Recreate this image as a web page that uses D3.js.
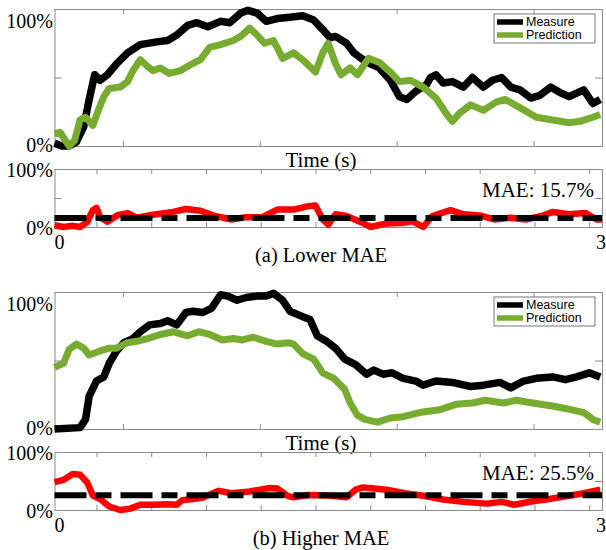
<!DOCTYPE html>
<html>
<head>
<meta charset="utf-8">
<script src="https://cdn.jsdelivr.net/npm/d3@7"></script>
<style>
  body { margin: 0; background: #fff; }
  svg text { font-family: "Liberation Serif", "Times New Roman", serif; fill: #000; }
  .legend text { font-family: "Liberation Sans", Arial, sans-serif; font-size: 12.5px; }
  .frame path, .frame line { stroke: #8a8a8a; stroke-width: 1; }
</style>
</head>
<body>
<svg id="chart" width="606" height="550"></svg>
<script>
// ── data (time in s, value as fraction of 100%) ─────────────────────────────
const measureA = [[0.00,0.02],[0.04,0.00],[0.08,0.00],[0.12,0.03],[0.16,0.14],[0.19,0.34],[0.22,0.52],[0.25,0.48],[0.29,0.52],[0.34,0.60],[0.40,0.68],[0.47,0.74],[0.56,0.76],[0.62,0.77],[0.67,0.81],[0.73,0.88],[0.78,0.90],[0.84,0.87],[0.91,0.91],[0.96,0.90],[1.02,0.97],[1.06,0.99],[1.11,0.97],[1.16,0.91],[1.22,0.93],[1.29,0.94],[1.36,0.95],[1.42,0.92],[1.47,0.85],[1.51,0.79],[1.54,0.80],[1.60,0.75],[1.64,0.68],[1.68,0.64],[1.73,0.60],[1.78,0.57],[1.84,0.48],[1.89,0.36],[1.93,0.34],[1.98,0.40],[2.04,0.45],[2.06,0.50],[2.09,0.52],[2.13,0.46],[2.18,0.47],[2.24,0.43],[2.29,0.50],[2.35,0.43],[2.40,0.48],[2.45,0.50],[2.50,0.43],[2.55,0.41],[2.61,0.35],[2.66,0.37],[2.72,0.43],[2.77,0.39],[2.82,0.36],[2.90,0.41],[2.95,0.31],[2.99,0.34]];
const predictionA = [[0.00,0.09],[0.03,0.10],[0.06,0.04],[0.08,0.00],[0.11,0.04],[0.14,0.19],[0.17,0.21],[0.21,0.15],[0.24,0.26],[0.27,0.36],[0.30,0.42],[0.36,0.43],[0.40,0.47],[0.43,0.55],[0.47,0.63],[0.51,0.58],[0.54,0.55],[0.58,0.57],[0.63,0.53],[0.69,0.55],[0.74,0.59],[0.80,0.63],[0.85,0.72],[0.91,0.74],[0.98,0.77],[1.02,0.80],[1.07,0.86],[1.11,0.81],[1.15,0.75],[1.20,0.77],[1.25,0.64],[1.31,0.68],[1.36,0.63],[1.43,0.54],[1.47,0.68],[1.50,0.75],[1.54,0.60],[1.57,0.52],[1.62,0.57],[1.66,0.52],[1.72,0.64],[1.78,0.61],[1.84,0.54],[1.89,0.47],[1.95,0.48],[2.02,0.43],[2.09,0.35],[2.15,0.23],[2.18,0.18],[2.22,0.24],[2.28,0.30],[2.35,0.26],[2.42,0.32],[2.47,0.34],[2.55,0.28],[2.64,0.21],[2.73,0.19],[2.82,0.17],[2.88,0.18],[2.95,0.21],[2.99,0.23]];
const errorA = [[0.00,0.03],[0.05,0.00],[0.10,0.02],[0.14,0.00],[0.18,0.09],[0.21,0.29],[0.23,0.33],[0.25,0.17],[0.29,0.09],[0.35,0.21],[0.40,0.24],[0.45,0.16],[0.54,0.21],[0.65,0.26],[0.72,0.31],[0.80,0.28],[0.88,0.19],[0.97,0.13],[1.05,0.17],[1.14,0.17],[1.22,0.30],[1.31,0.30],[1.39,0.36],[1.43,0.37],[1.47,0.13],[1.50,0.04],[1.54,0.22],[1.60,0.19],[1.69,0.07],[1.73,0.00],[1.82,0.06],[1.90,0.07],[1.96,0.10],[2.02,0.00],[2.07,0.19],[2.17,0.29],[2.24,0.22],[2.33,0.20],[2.41,0.13],[2.50,0.16],[2.58,0.13],[2.67,0.19],[2.73,0.26],[2.82,0.22],[2.91,0.24],[2.97,0.13],[3.00,0.13]];
const maeA = 0.157;

const measureB = [[0.00,0.00],[0.14,0.01],[0.17,0.07],[0.19,0.24],[0.23,0.35],[0.27,0.38],[0.30,0.48],[0.34,0.57],[0.38,0.63],[0.43,0.66],[0.47,0.71],[0.52,0.76],[0.58,0.77],[0.62,0.79],[0.67,0.76],[0.72,0.85],[0.76,0.86],[0.81,0.85],[0.86,0.88],[0.91,0.98],[0.95,0.97],[1.00,0.94],[1.05,0.96],[1.11,0.97],[1.16,0.97],[1.20,0.99],[1.25,0.94],[1.29,0.86],[1.36,0.82],[1.40,0.80],[1.44,0.68],[1.49,0.64],[1.54,0.59],[1.59,0.51],[1.65,0.47],[1.71,0.40],[1.75,0.43],[1.80,0.40],[1.85,0.41],[1.91,0.37],[1.98,0.35],[2.02,0.32],[2.09,0.35],[2.18,0.34],[2.28,0.31],[2.35,0.32],[2.44,0.34],[2.50,0.30],[2.57,0.35],[2.64,0.37],[2.73,0.38],[2.80,0.36],[2.86,0.38],[2.93,0.41],[2.99,0.38]];
const predictionB = [[0.00,0.45],[0.05,0.48],[0.08,0.58],[0.12,0.62],[0.16,0.59],[0.19,0.54],[0.25,0.57],[0.30,0.59],[0.34,0.59],[0.40,0.63],[0.45,0.64],[0.51,0.66],[0.58,0.69],[0.65,0.71],[0.70,0.69],[0.73,0.68],[0.79,0.71],[0.85,0.69],[0.92,0.65],[0.98,0.66],[1.03,0.65],[1.09,0.67],[1.16,0.64],[1.22,0.62],[1.28,0.63],[1.31,0.62],[1.36,0.55],[1.42,0.51],[1.47,0.41],[1.53,0.37],[1.59,0.29],[1.62,0.19],[1.66,0.10],[1.70,0.07],[1.77,0.05],[1.84,0.08],[1.91,0.09],[2.00,0.12],[2.11,0.14],[2.20,0.18],[2.29,0.19],[2.36,0.21],[2.46,0.19],[2.53,0.21],[2.62,0.19],[2.72,0.17],[2.80,0.15],[2.90,0.12],[2.95,0.07],[2.99,0.05]];
const errorB = [[0.00,0.48],[0.05,0.52],[0.10,0.62],[0.14,0.61],[0.18,0.47],[0.21,0.25],[0.25,0.19],[0.30,0.06],[0.36,0.00],[0.41,0.02],[0.47,0.09],[0.54,0.09],[0.62,0.10],[0.67,0.09],[0.70,0.17],[0.76,0.19],[0.81,0.21],[0.90,0.33],[0.97,0.29],[1.07,0.32],[1.18,0.38],[1.22,0.37],[1.28,0.24],[1.31,0.22],[1.39,0.26],[1.50,0.25],[1.60,0.22],[1.65,0.35],[1.69,0.39],[1.75,0.37],[1.82,0.35],[1.92,0.29],[2.03,0.24],[2.13,0.18],[2.24,0.14],[2.37,0.11],[2.45,0.14],[2.52,0.09],[2.62,0.15],[2.71,0.19],[2.81,0.24],[2.90,0.29],[2.99,0.35]];
const maeB = 0.255;

const topTicks    = [0.375, 1.125, 1.875, 2.625];
const bottomTicks = [0.23, 0.53, 0.83, 1.13, 1.43, 1.73, 2.03, 2.33, 2.63, 2.93];
const yTicks      = [0, 0.5, 1];
const legendNames = ['Measure', 'Prediction'];
const captions    = ['(a) Lower MAE', '(b) Higher MAE'];

const colors = { measure: '#000000', prediction: '#77ac30', error: '#ff0000' };

// ── layout ──────────────────────────────────────────────────────────────────
const svg = d3.select('#chart');
const left = 54.5, right = 602;

const x = d3.scaleLinear().domain([0, 3]).range([left, right]);

// box with inward ticks on all four sides
function drawFrame(g, y, xt) {
  const h = y.range()[0];
  const t = y.range()[1];
  g.append('g').attr('class', 'frame').attr('transform', `translate(0,${h})`)
    .call(d3.axisBottom(x).tickValues(xt).tickSize(-5).tickSizeOuter(0).tickFormat(''));
  g.append('g').attr('class', 'frame').attr('transform', `translate(0,${t})`)
    .call(d3.axisTop(x).tickValues(xt).tickSize(-5).tickSizeOuter(0).tickFormat(''));
  g.append('g').attr('class', 'frame').attr('transform', `translate(${left},0)`)
    .call(d3.axisLeft(y).tickValues(yTicks).tickSize(-7).tickSizeOuter(0).tickFormat(''));
  g.append('g').attr('class', 'frame').attr('transform', `translate(${right},0)`)
    .call(d3.axisRight(y).tickValues(yTicks).tickSize(-7).tickSizeOuter(0).tickFormat(''));
}

function drawLine(g, y, data, color, width, dash) {
  const line = d3.line().x(d => x(d[0])).y(d => y(d[1]));
  const p = g.append('path')
    .datum(data)
    .attr('d', line)
    .attr('fill', 'none')
    .attr('stroke', color)
    .attr('stroke-width', width)
    .attr('stroke-linejoin', 'round')
    .attr('stroke-linecap', 'butt');
  if (dash) p.attr('stroke-dasharray', dash);
}

function label(g, px, py, txt, size, anchor) {
  g.append('text')
    .attr('x', px).attr('y', py)
    .attr('text-anchor', anchor || 'middle')
    .style('font-size', size + 'px')
    .text(txt);
}

function drawFigure(off, measure, prediction, error, mae, caption) {
  const g = svg.append('g');
  const yTop = d3.scaleLinear().domain([0, 1]).range([146 + off, 9 + off]);
  const yBot = d3.scaleLinear().domain([0, 1]).range([227 + off, 169 + off]);

  // ── upper panel: measure vs prediction
  drawFrame(g, yTop, topTicks);
  drawLine(g, yTop, measure, colors.measure, 7.5);
  drawLine(g, yTop, prediction, colors.prediction, 7);

  label(g, 53, yTop(1) + 19, '100%', 20, 'end');
  label(g, 53, yTop(0) + 6, '0%', 20, 'end');
  label(g, 321, yTop(0) + 21, 'Time (s)', 21);

  // legend
  const lg = g.append('g').attr('class', 'legend');
  const lx = 494, ly = yTop(1) + 5;
  lg.append('rect')
    .attr('x', lx).attr('y', ly).attr('width', 101).attr('height', 29)
    .attr('fill', '#fff').attr('stroke', '#555').attr('stroke-width', 0.8);
  [colors.measure, colors.prediction].forEach((c, i) => {
    const yy = ly + 8 + i * 13;
    lg.append('line')
      .attr('x1', lx + 3).attr('x2', lx + 29)
      .attr('y1', yy).attr('y2', yy)
      .attr('stroke', c).attr('stroke-width', 5.5);
    lg.append('text').attr('x', lx + 32).attr('y', yy + 4.3).text(legendNames[i]);
  });

  // ── lower panel: absolute error + MAE
  drawFrame(g, yBot, bottomTicks);
  drawLine(g, yBot, error, colors.error, 6.5);
  drawLine(g, yBot, [[0, mae], [3, mae]], '#000', 6, '32,9,16,9');

  label(g, 53, yBot(1) + 8, '100%', 20, 'end');
  label(g, 53, yBot(0) + 8, '0%', 20, 'end');
  label(g, 594, yBot(1) + 28, `MAE: ${(mae * 100).toFixed(1)}%`, 21, 'end');
  label(g, x(0) + 5, yBot(0) + 22, '0', 20);
  label(g, x(3) - 1, yBot(0) + 22, '3', 20);
  label(g, 321, yBot(0) + 35, caption, 20.5);
}

drawFigure(0, measureA, predictionA, errorA, maeA, captions[0]);
drawFigure(283, measureB, predictionB, errorB, maeB, captions[1]);
</script>
</body>
</html>
